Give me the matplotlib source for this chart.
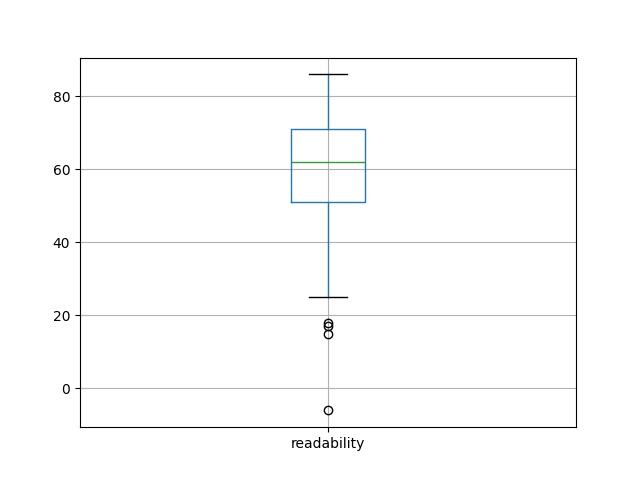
import matplotlib
matplotlib.use("Agg")
import matplotlib.pyplot as plt

label = "readability"
q1, med, q3 = 51.0, 62.0, 71.0
whislo, whishi = 25.0, 86.0
fliers = [18.0, 17.0, 15.0, -6.0]

stats = [dict(label=label, q1=q1, med=med, q3=q3, whislo=whislo, whishi=whishi, fliers=fliers)]

fig, ax = plt.subplots(figsize=(6.4, 4.8), dpi=100)
ax.bxp(stats,
       boxprops=dict(color="#1f77b4"),
       whiskerprops=dict(color="#1f77b4"),
       medianprops=dict(color="#2ca02c"),
       capprops=dict(color="black"),
       flierprops=dict(marker="o", markeredgecolor="black", markerfacecolor="none"))
ax.grid(True)
fig.savefig("out.png")
